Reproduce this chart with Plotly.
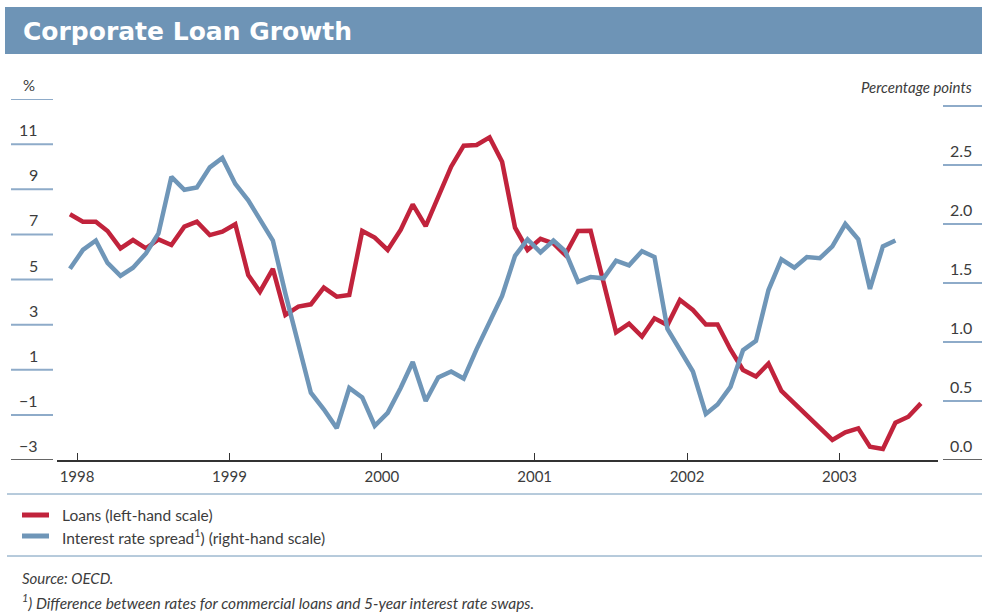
import pandas as pd
import plotly.graph_objects as go

# ---------------- data (monthly, Dec 1997 onwards) ----------------
loans = [7.89, 7.56, 7.56, 7.15, 6.38, 6.75, 6.38, 6.78, 6.53, 7.34, 7.56, 6.97,
         7.12, 7.45, 5.20, 4.46, 5.47, 3.43, 3.80, 3.90, 4.64, 4.24, 4.31, 7.15,
         6.86, 6.31, 7.20, 8.33, 7.37, 8.67, 10.00, 10.93, 10.96, 11.30, 10.22, 7.30,
         6.31, 6.80, 6.60, 6.09, 7.15, 7.16, 4.90, 2.66, 3.04, 2.47, 3.28, 2.98,
         4.09, 3.65, 3.01, 3.01, 1.90, 0.99, 0.70, 1.27, 0.06, -0.49, -1.05, -1.60,
         -2.11, -1.77, -1.60, -2.41, -2.51, -1.35, -1.08, -0.49]
spread = [1.62, 1.78, 1.86, 1.67, 1.56, 1.63, 1.75, 1.92, 2.40, 2.29, 2.31, 2.48,
          2.56, 2.34, 2.20, 2.04, 1.86, 1.41, 0.98, 0.57, 0.43, 0.27, 0.61, 0.53,
          0.29, 0.40, 0.61, 0.83, 0.50, 0.70, 0.75, 0.69, 0.94, 1.18, 1.39, 1.73,
          1.87, 1.76, 1.86, 1.77, 1.51, 1.55, 1.54, 1.69, 1.65, 1.77, 1.72, 1.11,
          0.94, 0.75, 0.39, 0.47, 0.62, 0.93, 1.01, 1.44, 1.70, 1.63, 1.72, 1.71,
          1.81, 2.00, 1.87, 1.45, 1.81, 1.86]
start_month = "1997-12-01"
years = [1998, 1999, 2000, 2001, 2002, 2003]
left_ticks = [-3, -1, 1, 3, 5, 7, 9, 11]
left_top = 13
right_ticks = [0.0, 0.5, 1.0, 1.5, 2.0, 2.5]
right_top = 3.0

title = "Corporate Loan Growth"
loans_name = "Loans (left-hand scale)"
spread_name = "Interest rate spread<sup>1</sup>) (right-hand scale)"
source_note = "Source: OECD."
foot_note = "<sup>1</sup>) Difference between rates for commercial loans and 5-year interest rate swaps."

# ---------------- styling ----------------
RED = "#c1233c"
BLUE = "#6f96b8"
BAR = "#6e94b6"
RULE = "#8eabc9"
TXT = "#3c3c3c"
FONT = "Lato, 'Open Sans', sans-serif"

W, H = 982, 614
ML, MR, MT, MB = 57, 44, 99, 154
PW = W - ML - MR
PH = H - MT - MB

def px_x(p):
    return (p - ML) / PW

def px_y(p):
    return (H - MB - p) / PH

dates_l = pd.date_range(start_month, periods=len(loans), freq="MS") + pd.Timedelta(days=14)
dates_s = pd.date_range(start_month, periods=len(spread), freq="MS") + pd.Timedelta(days=14)

fig = go.Figure()
fig.add_trace(go.Scatter(x=dates_l, y=loans, mode="lines", name="Loans",
                         line=dict(color=RED, width=4.5), yaxis="y", showlegend=False))
fig.add_trace(go.Scatter(x=dates_s, y=spread, mode="lines", name="Spread",
                         line=dict(color=BLUE, width=4.5), yaxis="y2", showlegend=False))

right_max = right_top * PH / (PH - 7)  # 3.0 sits ~7 px below the plot top

fig.update_layout(
    width=W, height=H,
    margin=dict(l=ML, r=MR, t=MT, b=MB),
    paper_bgcolor="white", plot_bgcolor="white",
    font=dict(family=FONT, color=TXT, size=15),
    xaxis=dict(type="date", range=["1997-11-14", "2003-08-25"],
               tickvals=[f"{y}-01-01" for y in years], ticktext=[str(y) for y in years],
               ticks="inside", ticklen=7, tickwidth=1, tickcolor="#333",
               showline=True, linecolor="#333", linewidth=1.5,
               showgrid=False, zeroline=False, ticklabelstandoff=2,
               tickfont=dict(family=FONT, size=15, color=TXT)),
    yaxis=dict(range=[left_ticks[0], left_top], showgrid=False, zeroline=False,
               showticklabels=False, showline=False),
    yaxis2=dict(range=[0, right_max], overlaying="y", side="right", showgrid=False,
                zeroline=False, showticklabels=False, showline=False),
)

shapes = []
annotations = []

# title bar
shapes.append(dict(type="rect", xref="paper", yref="paper", x0=px_x(5), x1=px_x(982),
                   y0=px_y(54), y1=px_y(7), fillcolor=BAR, line=dict(width=0), layer="below"))
annotations.append(dict(text=f"<b>{title}</b>", xref="paper", yref="paper",
                        x=px_x(21), y=px_y(31), xanchor="left", yanchor="middle", showarrow=False,
                        font=dict(family="'DejaVu Sans', sans-serif", size=25, color="white")))

# left scale rules & labels
for v in left_ticks + [left_top]:
    col = "#333" if v == left_ticks[0] else RULE
    shapes.append(dict(type="line", xref="paper", yref="y", x0=px_x(11), x1=px_x(53),
                       y0=v, y1=v, line=dict(color=col, width=1.5 if v == left_ticks[0] else 2)))
for v in left_ticks:
    lab = str(v).replace("-", "\u2212")
    annotations.append(dict(text=lab, xref="paper", yref="y", x=px_x(40), y=v,
                            xanchor="right", yanchor="bottom", yshift=3, showarrow=False,
                            font=dict(size=16)))
annotations.append(dict(text="%", xref="paper", yref="y", x=px_x(21), y=left_top,
                        xanchor="left", yanchor="bottom", yshift=3, showarrow=False,
                        font=dict(size=15)))

# right scale rules & labels
for v in right_ticks + [right_top]:
    col = "#333" if v == right_ticks[0] else RULE
    shapes.append(dict(type="line", xref="paper", yref="y2", x0=px_x(943), x1=px_x(982),
                       y0=v, y1=v, line=dict(color=col, width=1.5 if v == right_ticks[0] else 2)))
for v in right_ticks:
    annotations.append(dict(text=f"{v:.1f}", xref="paper", yref="y2", x=px_x(974), y=v,
                            xanchor="right", yanchor="bottom", yshift=3, showarrow=False,
                            font=dict(size=16)))
annotations.append(dict(text="<i>Percentage points</i>", xref="paper", yref="y2", x=px_x(974),
                        y=right_top, xanchor="right", yanchor="bottom", yshift=8, showarrow=False,
                        font=dict(size=15)))

# separators
for yy in (494, 556):
    shapes.append(dict(type="line", xref="paper", yref="paper", x0=px_x(7), x1=px_x(982),
                       y0=px_y(yy), y1=px_y(yy), line=dict(color=BLUE, width=1)))

# legend
for yy, col, name in ((515, RED, loans_name), (536, BLUE, spread_name)):
    shapes.append(dict(type="line", xref="paper", yref="paper", x0=px_x(22), x1=px_x(49),
                       y0=px_y(yy), y1=px_y(yy), line=dict(color=col, width=5)))
    annotations.append(dict(text=name, xref="paper", yref="paper", x=px_x(60), y=px_y(yy),
                            xanchor="left", yanchor="middle", showarrow=False,
                            font=dict(size=15.5)))

# footnotes
annotations.append(dict(text=f"<i>{source_note}</i>", xref="paper", yref="paper", x=px_x(20),
                        y=px_y(578), xanchor="left", yanchor="middle", showarrow=False,
                        font=dict(size=15)))
annotations.append(dict(text=f"<i>{foot_note}</i>", xref="paper", yref="paper", x=px_x(20),
                        y=px_y(601), xanchor="left", yanchor="middle", showarrow=False,
                        font=dict(size=15.5)))

fig.update_layout(shapes=shapes, annotations=annotations)
fig.write_html("out.html")
